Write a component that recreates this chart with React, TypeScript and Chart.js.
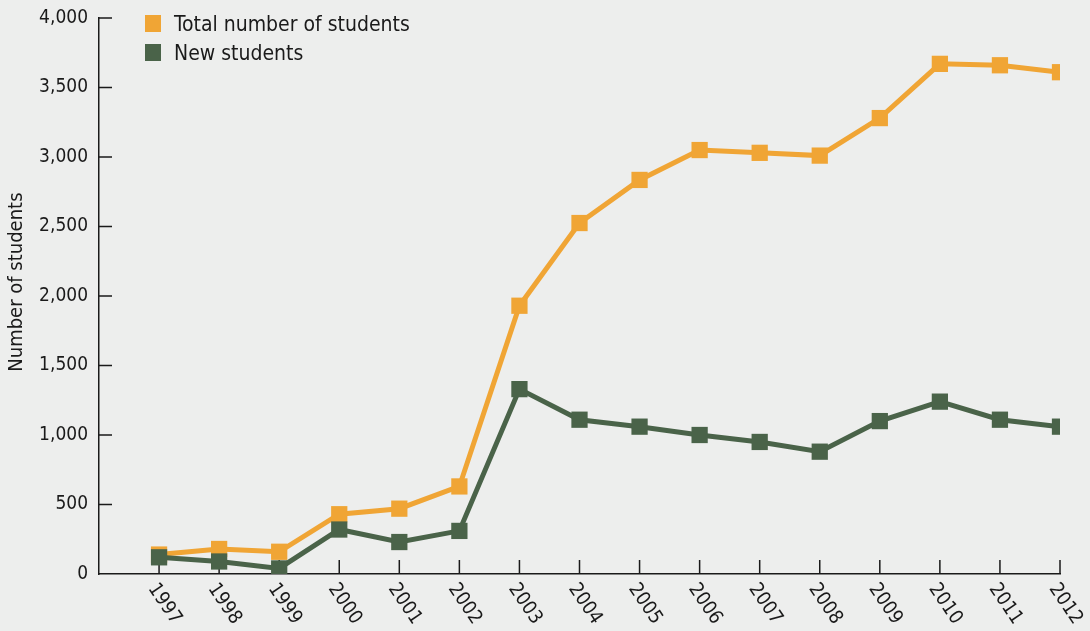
import React, { useEffect, useRef } from "react";
import { Chart, registerables } from "chart.js";

Chart.register(...registerables);

const years = [1997, 1998, 1999, 2000, 2001, 2002, 2003, 2004, 2005, 2006, 2007, 2008, 2009, 2010, 2011, 2012];
const totalStudents = [140, 180, 160, 430, 470, 630, 1930, 2525, 2835, 3050, 3030, 3010, 3280, 3670, 3660, 3610];
const newStudents = [120, 90, 40, 320, 230, 310, 1330, 1110, 1060, 1000, 950, 880, 1100, 1240, 1110, 1060];
const yTicks = [0, 500, 1000, 1500, 2000, 2500, 3000, 3500, 4000];
const yTitle = "Number of students";

const FONT = "'DejaVu Sans Condensed', 'Liberation Sans Narrow', sans-serif";
const ORANGE = "#F0A535";
const GREEN = "#4A6349";
const BG = "#EDEEED";
const INK = "#1A1A1A";

const inwardTicks = {
  id: "inwardTicks",
  beforeDatasetsDraw(chart: any) {
    const { ctx } = chart;
    const x = chart.scales.x;
    const y = chart.scales.y;
    ctx.save();
    ctx.strokeStyle = INK;
    ctx.lineWidth = 1.5;
    ctx.beginPath();
    for (const v of yTicks) {
      if (v === 0) continue;
      const py = y.getPixelForValue(v);
      ctx.moveTo(x.left, py);
      ctx.lineTo(x.left + 13, py);
    }
    for (const yr of years) {
      const px = x.getPixelForValue(yr);
      ctx.moveTo(px, y.bottom);
      ctx.lineTo(px, y.bottom - 14);
    }
    ctx.stroke();
    ctx.restore();
  },
  afterDraw(chart: any) {
    const { ctx } = chart;
    const x = chart.scales.x;
    const y = chart.scales.y;
    ctx.save();
    ctx.fillStyle = INK;
    ctx.font = `19.5px ${FONT}`;
    ctx.textAlign = "left";
    ctx.textBaseline = "top";
    for (const yr of years) {
      const px = x.getPixelForValue(yr);
      ctx.save();
      ctx.translate(px + 1, y.bottom + 6);
      ctx.rotate((56 * Math.PI) / 180);
      ctx.fillText(String(yr), 0, 0);
      ctx.restore();
    }
    // y-axis title
    ctx.save();
    ctx.font = `20px ${FONT}`;
    ctx.textAlign = "center";
    ctx.textBaseline = "middle";
    ctx.translate(17, y.getPixelForValue(2100));
    ctx.rotate(-Math.PI / 2);
    ctx.fillText(yTitle, 0, 0);
    ctx.restore();
    ctx.restore();
  },
};

export default function App() {
  const ref = useRef<HTMLCanvasElement>(null);
  useEffect(() => {
    document.body.style.margin = "0";
    const chart = new Chart(ref.current!, {
      type: "line",
      data: {
        datasets: [
          {
            label: "Total number of students",
            data: years.map((yr, i) => ({ x: yr, y: totalStudents[i] })),
            borderColor: ORANGE,
            backgroundColor: ORANGE,
            borderWidth: 5,
            pointStyle: "rect",
            pointRadius: 11.5,
            pointHoverRadius: 11.5,
            pointBorderWidth: 0,
            order: 1,
          },
          {
            label: "New students",
            data: years.map((yr, i) => ({ x: yr, y: newStudents[i] })),
            borderColor: GREEN,
            backgroundColor: GREEN,
            borderWidth: 5,
            pointStyle: "rect",
            pointRadius: 11.5,
            pointHoverRadius: 11.5,
            pointBorderWidth: 0,
            order: 0,
          },
        ],
      },
      options: {
        animation: false,
        responsive: true,
        maintainAspectRatio: false,
        layout: { padding: { top: 18, right: 30, left: 0, bottom: 0 } },
        plugins: { legend: { display: false }, tooltip: { enabled: false } },
        scales: {
          x: {
            type: "linear",
            min: 1996,
            max: 2012,
            grid: { drawOnChartArea: false, drawTicks: false },
            border: { color: INK, width: 1.5 },
            ticks: { display: false },
            afterFit: (s: any) => {
              s.height = 57;
              s.paddingLeft = 0;
              s.paddingRight = 0;
            },
          },
          y: {
            min: 0,
            max: 4000,
            grid: { drawOnChartArea: false, drawTicks: false },
            border: { color: INK, width: 1.5 },
            afterBuildTicks: (s: any) => {
              s.ticks = yTicks.map((v) => ({ value: v }));
            },
            ticks: {
              color: INK,
              padding: 11,
              font: { family: FONT, size: 19 },
              callback: (v: any) => Number(v).toLocaleString("en-US"),
            },
            afterFit: (s: any) => {
              s.width = 99;
              s.paddingTop = 0;
              s.paddingBottom = 0;
            },
          },
        },
      },
      plugins: [inwardTicks],
    });
    return () => chart.destroy();
  }, []);

  const item = (color: string, text: string, top: number) => (
    <div style={{ position: "absolute", left: 145, top, display: "flex", alignItems: "center", height: 17 }}>
      <div style={{ width: 16, height: 17, background: color }} />
      <span style={{ marginLeft: 13, fontFamily: FONT, fontSize: 21, color: INK, whiteSpace: "nowrap" }}>{text}</span>
    </div>
  );

  return (
    <div style={{ position: "fixed", left: 0, top: 0, width: 1090, height: 631, background: BG }}>
      <canvas ref={ref} />
      {item(ORANGE, "Total number of students", 15)}
      {item(GREEN, "New students", 44)}
    </div>
  );
}
